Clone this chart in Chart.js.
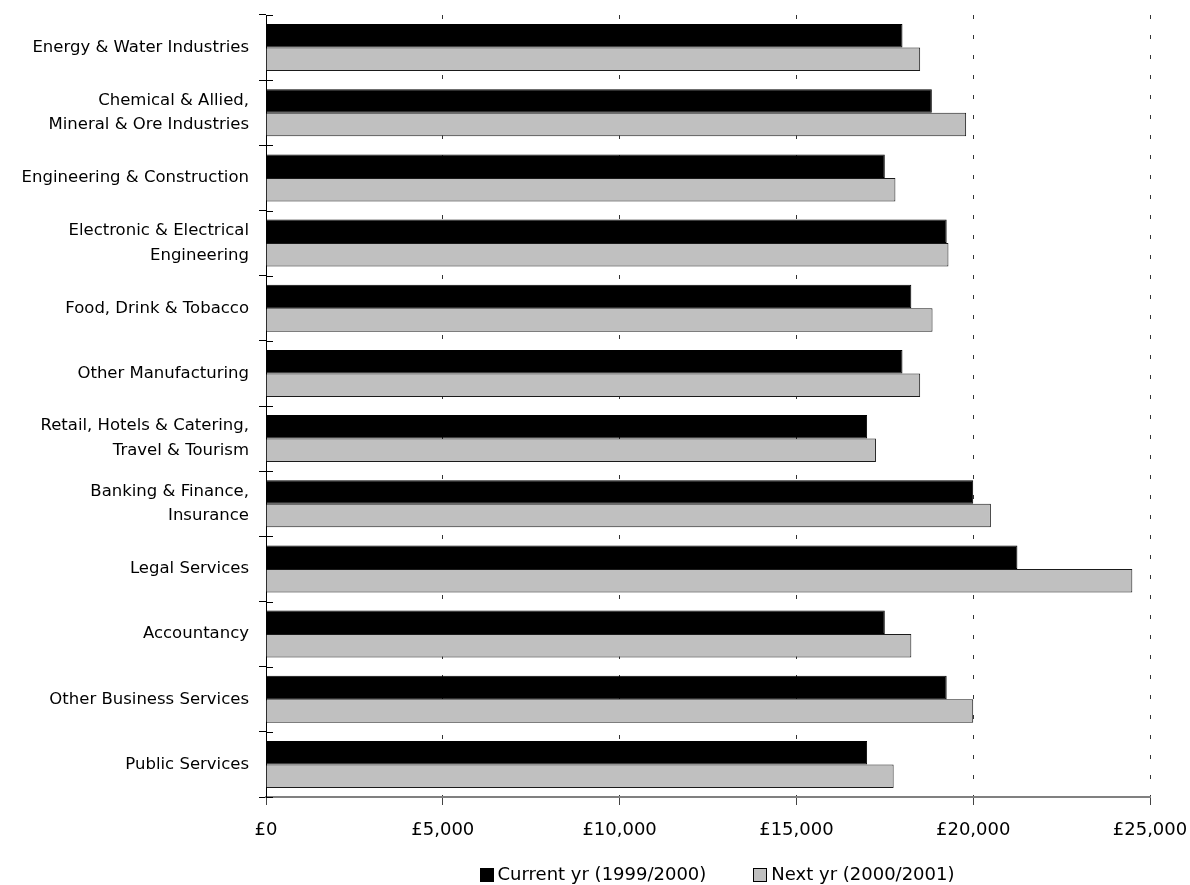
<!DOCTYPE html>
<html>
<head>
<meta charset="utf-8">
<title>Starting salaries by sector</title>
<script src="https://cdn.jsdelivr.net/npm/chart.js@4"></script>
<style>
  html, body { margin: 0; padding: 0; background: #fff; }
  #wrap { width: 1190px; height: 885px; }
</style>
</head>
<body>
<div id="wrap"><canvas id="salaryChart" width="1190" height="885"></canvas></div>
<script>
const sectors = [
  'Energy & Water Industries',
  ['Chemical & Allied,', 'Mineral & Ore Industries'],
  'Engineering & Construction',
  ['Electronic & Electrical', 'Engineering'],
  'Food, Drink & Tobacco',
  'Other Manufacturing',
  ['Retail, Hotels & Catering,', 'Travel & Tourism'],
  ['Banking & Finance,', 'Insurance'],
  'Legal Services',
  'Accountancy',
  'Other Business Services',
  'Public Services'
];
const currentYear = [18000, 18830, 17500, 19250, 18250, 18000, 17000, 20000, 21250, 17500, 19250, 17000];
const nextYear = [18500, 19800, 17800, 19300, 18850, 18500, 17250, 20500, 24500, 18250, 20000, 17750];
const xTicks = [0, 5000, 10000, 15000, 20000, 25000];

const FONT = 'DejaVu Sans';

// short tick marks on the inside of the category axis
const innerTicks = {
  id: 'innerTicks',
  afterDatasetsDraw(chart) {
    const y = chart.scales.y;
    const ctx = chart.ctx;
    ctx.save();
    ctx.strokeStyle = '#000';
    ctx.lineWidth = 1;
    ctx.beginPath();
    for (let i = 0; i <= sectors.length; i++) {
      const py = Math.round(y.getPixelForValue(i - 0.5)) + 0.5;
      ctx.moveTo(y.right, py);
      ctx.lineTo(y.right + 7, py);
    }
    ctx.stroke();
    ctx.restore();
  }
};

// compact legend row under the x axis, centred on the plot area
const bottomLegend = {
  id: 'bottomLegend',
  afterDraw(chart, args, opts) {
    const ctx = chart.ctx;
    const area = chart.chartArea;
    const box = opts.boxSize, gap = opts.textGap, spacing = opts.itemGap;
    ctx.save();
    ctx.font = opts.fontSize + 'px "' + FONT + '"';
    ctx.textBaseline = 'middle';
    ctx.textAlign = 'left';
    const items = chart.data.datasets.map(ds => ({
      ds, w: box + gap + ctx.measureText(ds.label).width
    }));
    const total = items.reduce((s, it) => s + it.w, 0) + spacing * (items.length - 1);
    let x = (area.left + area.right) / 2 + opts.shift - total / 2;
    const y = opts.y;
    items.forEach(it => {
      ctx.fillStyle = it.ds.backgroundColor;
      ctx.fillRect(Math.round(x), Math.round(y - box / 2), box, box);
      ctx.strokeStyle = '#000';
      ctx.lineWidth = 1;
      ctx.strokeRect(Math.round(x) + 0.5, Math.round(y - box / 2) + 0.5, box - 1, box - 1);
      ctx.fillStyle = '#000';
      ctx.fillText(it.ds.label, x + box + gap, y);
      x += it.w + spacing;
    });
    ctx.restore();
  }
};

const ctx = document.getElementById('salaryChart').getContext('2d');
new Chart(ctx, {
  type: 'bar',
  data: {
    labels: sectors,
    datasets: [{
      label: 'Current yr (1999/2000)',
      data: currentYear,
      backgroundColor: '#000000',
      borderColor: '#000000',
      borderWidth: 1,
      categoryPercentage: 0.72,
      barPercentage: 1.0
    }, {
      label: 'Next yr (2000/2001)',
      data: nextYear,
      backgroundColor: '#c0c0c0',
      borderColor: '#1a1a1a',
      borderWidth: 1,
      categoryPercentage: 0.72,
      barPercentage: 1.0
    }]
  },
  options: {
    indexAxis: 'y',
    responsive: false,
    animation: false,
    layout: { padding: { top: 15, right: 40, left: 0, bottom: 36 } },
    plugins: {
      tooltip: { enabled: false },
      legend: { display: false },
      bottomLegend: { boxSize: 14, textGap: 4, itemGap: 47, fontSize: 18, y: 875, shift: 9 }
    },
    scales: {
      x: {
        min: 0,
        max: 25000,
        afterBuildTicks(scale) {
          scale.ticks = xTicks.map(v => ({ value: v }));
        },
        afterFit(scale) {
          scale.height = 52;
          scale.paddingLeft = 0;
          scale.paddingRight = 0;
        },
        ticks: {
          color: '#000',
          font: { family: FONT, size: 18 },
          padding: 15,
          maxRotation: 0,
          callback: v => '£' + v.toLocaleString('en-GB')
        },
        grid: {
          color: '#333',
          lineWidth: 1,
          tickLength: 8,
          tickColor: '#444',
          tickBorderDash: []
        },
        border: { color: '#808080', width: 2, dash: [4, 16], dashOffset: 0 }
      },
      y: {
        afterFit(scale) {
          scale.width = 266;
          scale.paddingTop = 0;
          scale.paddingBottom = 0;
        },
        ticks: {
          color: '#000',
          font: { family: FONT, size: 16.5, lineHeight: 1.5 },
          padding: 10,
          autoSkip: false
        },
        grid: {
          offset: true,
          drawOnChartArea: false,
          tickLength: 7,
          tickColor: '#000'
        },
        border: { color: '#000', width: 1 }
      }
    }
  },
  plugins: [innerTicks, bottomLegend]
});
</script>
</body>
</html>
